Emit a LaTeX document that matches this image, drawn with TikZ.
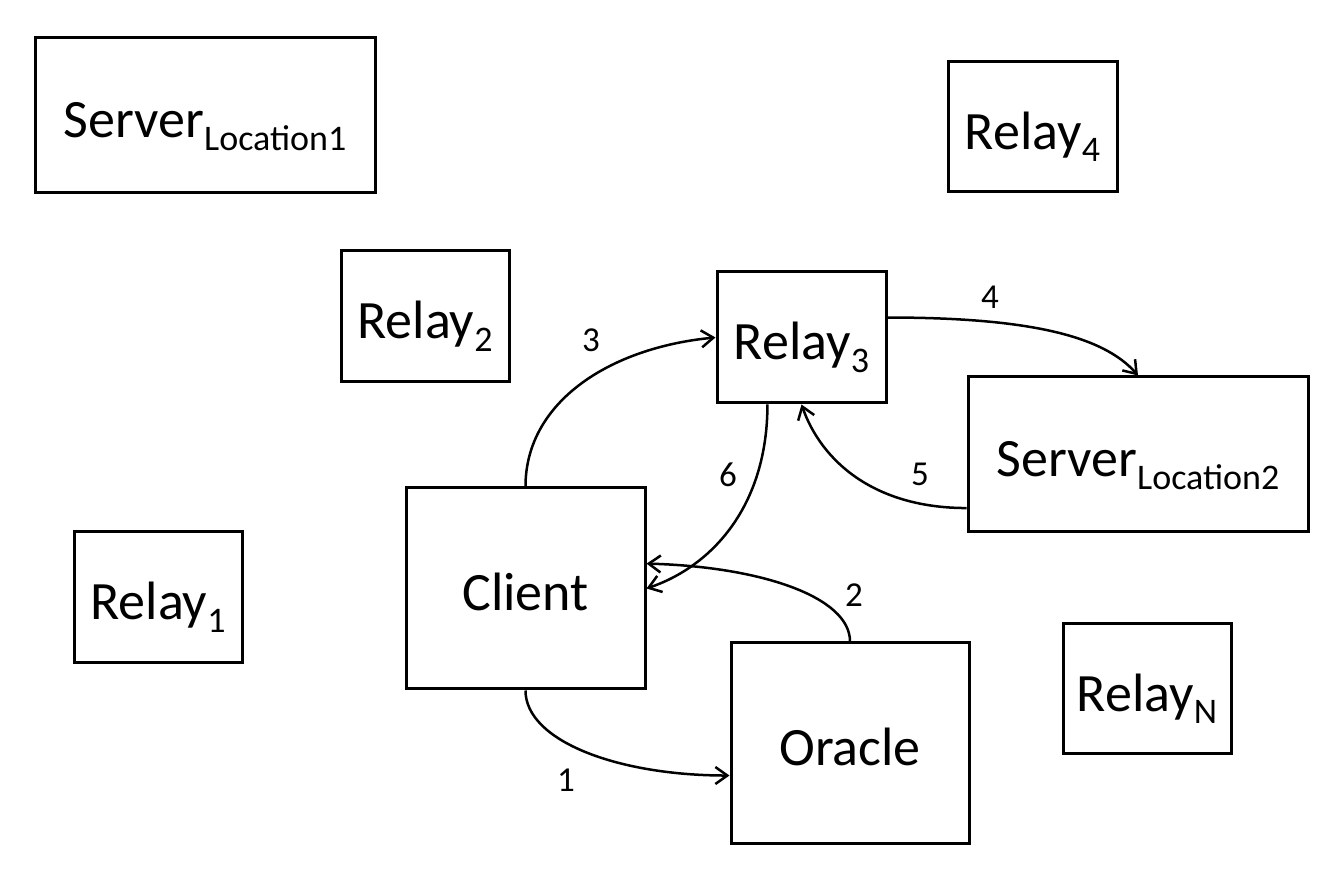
\documentclass[tikz,border=0pt]{standalone}
\usepackage{fontspec}
\setmainfont{Carlito}
\usetikzlibrary{arrows.meta,calc}
\newcommand\mysub[1]{\raisebox{-12.5pt}{\fontsize{36}{40}\selectfont #1}}
\begin{document}
\begin{tikzpicture}[x=1pt,y=1pt,
  box/.style={draw=black,line width=3pt,inner sep=0pt,text height=45pt,text depth=0pt,font=\fontsize{54}{60}\selectfont},
  conn/.style={line width=2.5pt,-{Straight Barb[length=12pt,width=17pt,line width=2.5pt]}},
  lbl/.style={font=\fontsize{35}{40}\selectfont,inner sep=0pt}]
\useasboundingbox (0,0) rectangle (1342,880);
\node[box,minimum width=340pt,minimum height=155pt] (s1) at (205,764.5) {Server\mysub{Location1}};
\node[box,minimum width=169pt,minimum height=130pt] (r4) at (1032.5,753) {Relay\mysub{4}};
\node[box,minimum width=168pt,minimum height=131pt] (r2) at (425,563.5) {Relay\mysub{2}};
\node[box,minimum width=169pt,minimum height=131pt] (r3) at (801.5,542.5) {Relay\mysub{3}};
\node[box,minimum width=340pt,minimum height=155pt] (s2) at (1138,425.5) {Server\mysub{Location2}};
\node[box,minimum width=168pt,minimum height=131pt] (r1) at (158,282.5) {Relay\mysub{1}};
\node[box,minimum width=239pt,minimum height=201pt] (c) at (525.5,291.5) {Client};
\node[box,minimum width=238pt,minimum height=201pt] (o) at (850,136.5) {Oracle};
\node[box,minimum width=168pt,minimum height=130pt] (rN) at (1147,191) {Relay\mysub{N}};
% connectors
\draw[conn] (c.south) .. controls +(0,-50) and +(-113,0) .. ($(o.south west)!0.343!(o.north west)$);
\draw[conn] (o.north) .. controls +(0,45) and +(113,-3) .. ($(c.south east)!0.622!(c.north east)$);
\draw[conn] (c.north) .. controls +(0,85) and +(-105,-10) .. (r3.west);
\draw[conn] ($(r3.south east)!0.649!(r3.north east)$) .. controls +(140,0) and +(-35,40) .. (s2.north);
\draw[conn] ($(s2.south west)!0.161!(s2.north west)$) .. controls +(-92,0) and +(20,-57) .. (r3.south);
\draw[conn] ($(r3.south west)!0.302!(r3.south east)$) .. controls +(0,-102) and +(65,22) .. (c.east);
% labels
\node[lbl] (l1) at (566,100) {1};
\node[lbl] (l2) at (854,285) {2};
\node[lbl] (l3) at (591,540) {3};
\node[lbl] (l4) at (990,583) {4};
\node[lbl] (l5) at (920,406) {5};
\node[lbl] (l6) at (728,405) {6};
\end{tikzpicture}
\end{document}
